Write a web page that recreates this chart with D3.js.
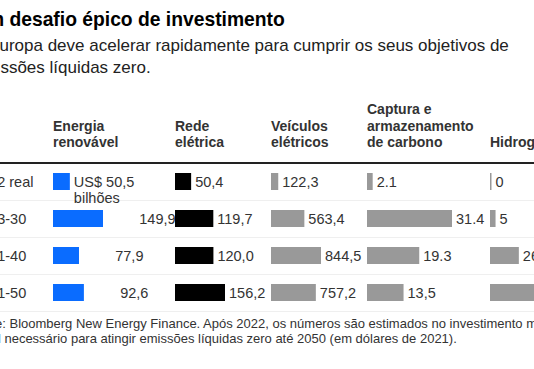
<!DOCTYPE html>
<html>
<head>
<meta charset="utf-8">
<script src="https://cdn.jsdelivr.net/npm/d3@7"></script>
<style>
  body { margin: 0; background: #fff; }
  svg { display: block; font-family: "Liberation Sans", Arial, sans-serif; }
</style>
</head>
<body>
<div id="chart"></div>
<script>

// data
const periods = ["2022 real", "2023-30", "2031-40", "2041-50"];
const categories = [
    ["Energia", "renovável"],
    ["Rede", "elétrica"],
    ["Veículos", "elétricos"],
    ["Captura e", "armazenamento", "de carbono"],
    ["Hidrogênio"]
];
const renovavel  = [50.5, 149.9, 77.9, 92.6];
const rede       = [50.4, 119.7, 120.0, 156.2];
const veiculos   = [122.3, 563.4, 844.5, 757.2];
const captura    = [2.1, 31.4, 19.3, 13.5];
const hidrogenio = [0, 5, 26, 55];
const capturaLabels = ["2.1", "31.4", "19.3", "13,5"];

const title = "Um desafio épico de investimento";
const subtitle = ["A Europa deve acelerar rapidamente para cumprir os seus objetivos de",
                  "emissões líquidas zero."];
const note = ["Fonte: Bloomberg New Energy Finance. Após 2022, os números são estimados no investimento médio",
              "anual necessário para atingir emissões líquidas zero até 2050 (em dólares de 2021)."];

const W = 534, H = 369;
const x0 = -27;   // the picture is cropped on the left

const svg = d3.select("#chart").append("svg")
    .attr("width", W).attr("height", H);

const pt = d3.formatLocale({decimal: ",", thousands: ".", grouping: [3], currency: ["US$ ", ""]});
const fmt = pt.format(".1f");

// title block
svg.append("text")
    .attr("x", x0).attr("y", 26)
    .attr("font-size", 19.3).attr("font-weight", "bold").attr("fill", "#000")
    .text(title);

svg.append("text")
    .attr("font-size", 17).attr("fill", "#222")
    .selectAll("tspan").data(subtitle).enter().append("tspan")
    .attr("x", x0).attr("y", (d, i) => 51 + i * 21.5)
    .text(d => d);

// columns
let colX = [53, 175, 271, 367, 490];
let colW = [50, 50, 50, 85, 61];
let series = [renovavel, rede, veiculos, captura, hidrogenio];
let colors = ["#0a6cff", "#000000", "#999999", "#999999", "#999999"];

let y = d3.scaleBand()
    .domain(periods)
    .range([163, 311]);

let barH = 17;

// column headers, bottom aligned
categories.forEach((lines, c) => {
    svg.append("text")
        .attr("font-size", 14).attr("font-weight", "bold").attr("fill", "#333")
        .selectAll("tspan").data(lines).enter().append("tspan")
        .attr("x", colX[c])
        .attr("y", (d, i) => 147 - (lines.length - 1 - i) * 16.5)
        .text(d => d);
});

// row separators
svg.selectAll(".sep")
    .data(periods)
    .enter().append("line")
    .attr("class", "sep")
    .attr("x1", x0).attr("x2", W)
    .attr("y1", d => y(d) + y.bandwidth() + 0.5)
    .attr("y2", d => y(d) + y.bandwidth() + 0.5)
    .attr("stroke", "#efefef").attr("stroke-width", 1);

// header rule
svg.append("line")
    .attr("x1", x0).attr("x2", W)
    .attr("y1", 163).attr("y2", 163)
    .attr("stroke", "#222").attr("stroke-width", 2);

// row labels
svg.selectAll(".rowlab")
    .data(periods)
    .enter().append("text")
    .attr("class", "rowlab")
    .attr("x", x0)
    .attr("y", d => y(d) + y.bandwidth() / 2 + 5)
    .attr("font-size", 14.5).attr("fill", "#333")
    .text(d => d);

// bars and value labels
series.forEach((vals, c) => {
    let x = d3.scaleLinear()
        .domain([0, d3.max(vals)])
        .range([0, colW[c]]);

    let g = svg.append("g").attr("transform", "translate(" + colX[c] + ",0)");

    g.selectAll("rect")
        .data(vals)
        .enter().append("rect")
        .attr("x", 0)
        .attr("y", (d, i) => y(periods[i]) + (y.bandwidth() - barH) / 2)
        .attr("width", d => Math.max(1.5, x(d)))
        .attr("height", barH)
        .attr("fill", colors[c]);

    let labels = g.selectAll("text.val")
        .data(vals)
        .enter().append("text")
        .attr("class", "val")
        .attr("x", d => Math.max(1.5, x(d)) + 4)
        .attr("y", (d, i) => y(periods[i]) + y.bandwidth() / 2 + 5)
        .attr("font-size", 14.5).attr("fill", "#333");

    if (c == 0) {
        // first one carries the unit, the rest keep its space
        labels.each(function(d, i) {
            let t = d3.select(this);
            t.append("tspan")
                .attr("fill", i == 0 ? "#333" : "transparent")
                .text("US$ ");
            t.append("tspan").text(fmt(d));
            if (i == 0) {
                t.append("tspan")
                    .attr("x", x(d) + 4).attr("dy", 16)
                    .text("bilhões");
            }
        });
    } else if (c == 3) {
        labels.text((d, i) => capturaLabels[i]);
    } else if (c == 4) {
        labels.text(d => d3.format("d")(d));
    } else {
        labels.text(d => fmt(d));
    }
});

// footnote
svg.append("text")
    .attr("font-size", 13).attr("fill", "#333")
    .selectAll("tspan").data(note).enter().append("tspan")
    .attr("x", x0 - 4).attr("y", (d, i) => 328 + i * 14.5)
    .text(d => d);

</script>
</body>
</html>
